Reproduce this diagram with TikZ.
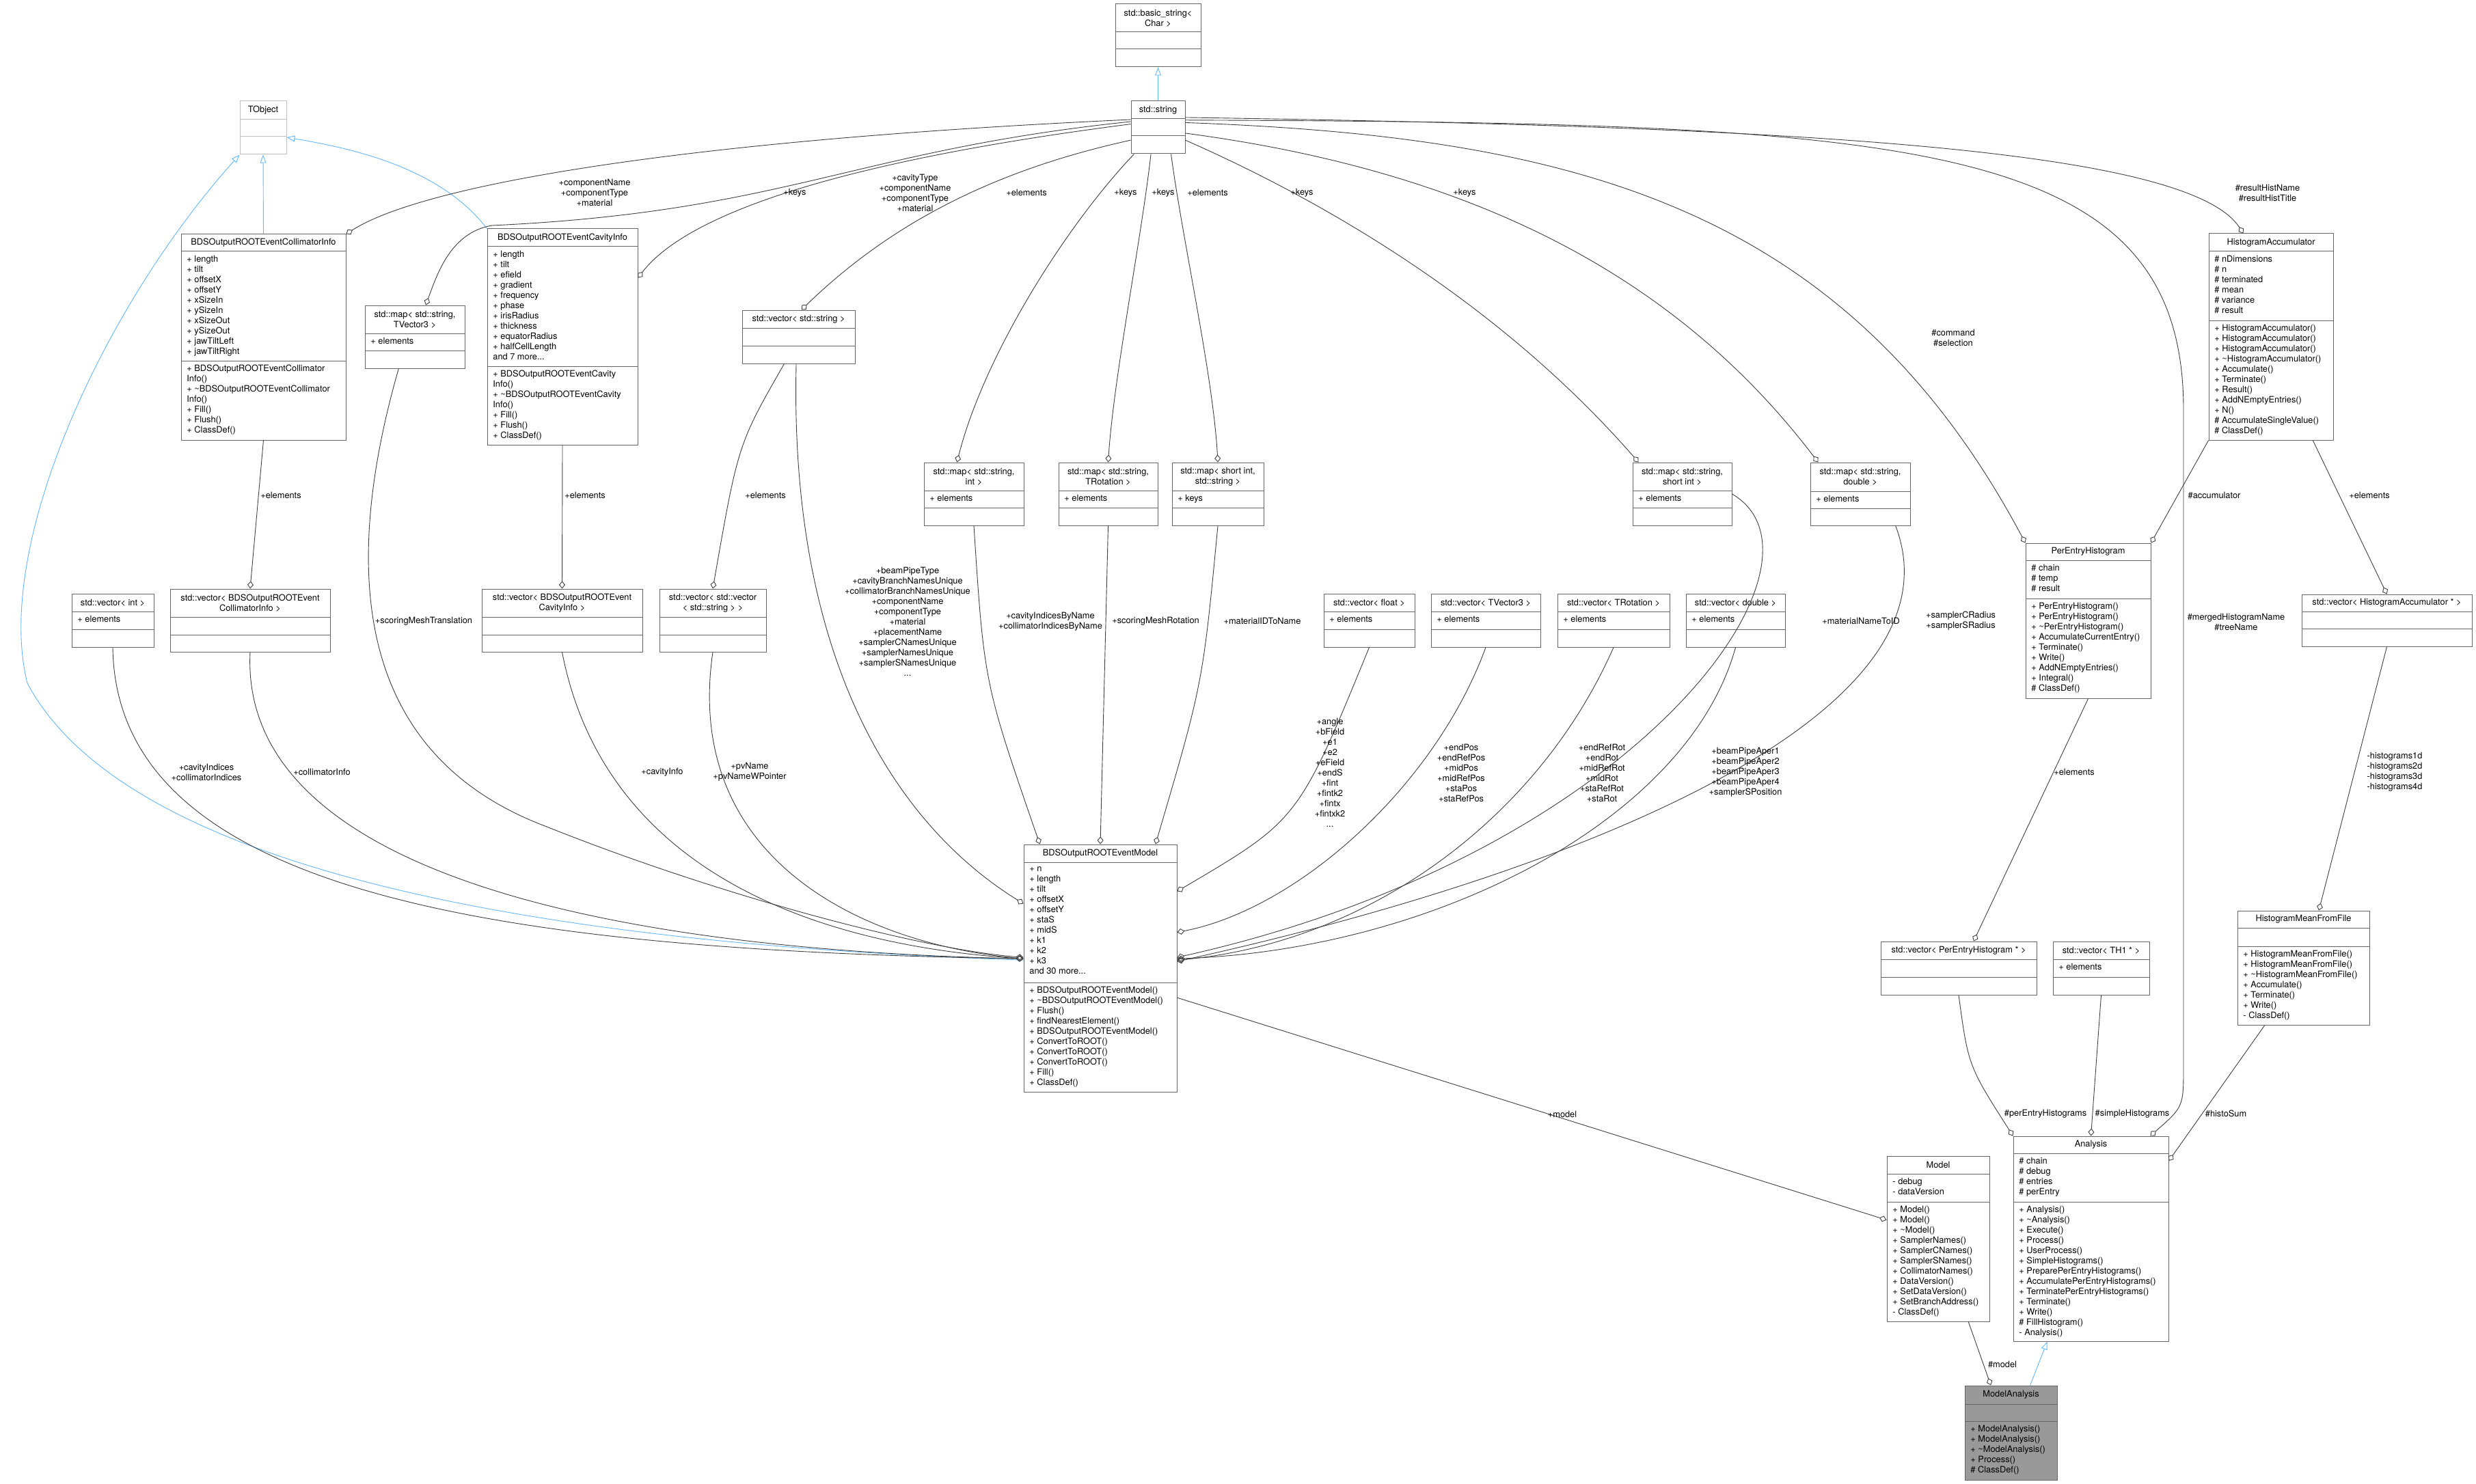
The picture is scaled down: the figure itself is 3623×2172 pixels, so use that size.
\documentclass[tikz,border=0pt]{standalone}
\usepackage{fontspec}
\setmainfont{TeX Gyre Heros}
\usetikzlibrary{arrows.meta,fit}

\definecolor{edgec}{RGB}{64,64,64}
\definecolor{boxc}{RGB}{102,102,102}
\definecolor{inhc}{RGB}{99,184,255}
\definecolor{paleboxc}{RGB}{191,191,191}
\definecolor{mainc}{RGB}{153,153,153}

\tikzset{
  classline/.style={draw=boxc, line width=0.5pt},
  classtitle/.style={font=\fontsize{6.4}{7.5}\selectfont, align=center, inner sep=0pt},
  members/.style={font=\fontsize{6.4}{7.5}\selectfont, align=left, anchor=north west, inner sep=0pt},
  lbl/.style={font=\fontsize{6.4}{7.5}\selectfont, align=center, inner sep=0pt},
  agg/.style={draw=edgec, line width=0.45pt, -{Diamond[open, length=5.5pt, width=4.5pt]}},
  inh/.style={draw=inhc, line width=0.45pt, -{Triangle[open, length=6pt, width=4.5pt]}},
}

% style, name, x1, y1, x2, y2, first split, second split, title
\newcommand{\umlclass}[9]{%
  \node[#1, inner sep=0pt, fit={(#3,#4) (#5,#6)}] (#2) {};
  \draw[#1] (#3,#7) -- (#5,#7) (#3,#8) -- (#5,#8);
  \node[classtitle] (#2-t) at ({(#3+#5)/2},{(#4+#7)/2}) {#9};
}

\begin{document}
\begin{tikzpicture}[x=0.5pt, y=-0.5pt]
  \useasboundingbox[fill=white] (0,0) rectangle (3623,2172);

  % classes
  \umlclass{draw=paleboxc, line width=0.5pt}{tobj}{351}{148}{419}{226}{175}{200}{TObject}
  \umlclass{classline}{bstr}{1632}{6}{1757}{98}{47}{72}{std::basic\_string\textless\\ Char \textgreater}
  \umlclass{classline}{str}{1655}{148}{1734}{225}{174}{199}{std::string}
  \umlclass{classline}{coll}{265}{343}{506}{644}{368}{528}{BDSOutputROOTEventCollimatorInfo}
  \umlclass{classline}{cav}{713}{335}{933}{651}{361}{536}{BDSOutputROOTEventCavityInfo}
  \umlclass{classline}{mtv3}{534}{447}{680}{539}{488}{513}{std::map\textless{} std::string,\\ TVector3 \textgreater}
  \umlclass{classline}{vstr}{1086}{454}{1251}{532}{480}{506}{std::vector\textless{} std::string \textgreater}
  \umlclass{classline}{msi}{1352}{677}{1498}{769}{718}{743}{std::map\textless{} std::string,\\ int \textgreater}
  \umlclass{classline}{mstr}{1549}{677}{1694}{769}{718}{743}{std::map\textless{} std::string,\\ TRotation \textgreater}
  \umlclass{classline}{mshs}{1715}{677}{1849}{769}{718}{743}{std::map\textless{} short int,\\ std::string \textgreater}
  \umlclass{classline}{mssh}{2389}{677}{2534}{769}{718}{743}{std::map\textless{} std::string,\\ short int \textgreater}
  \umlclass{classline}{msd}{2649}{677}{2795}{769}{719}{744}{std::map\textless{} std::string,\\ double \textgreater}
  \umlclass{classline}{hacc}{3232}{342}{3414}{644}{368}{469}{HistogramAccumulator}
  \umlclass{classline}{peh}{2964}{795}{3147}{1022}{820}{876}{PerEntryHistogram}
  \umlclass{classline}{vint}{105}{869}{225}{947}{895}{921}{std::vector\textless{} int \textgreater}
  \umlclass{classline}{vcoll}{249}{862}{483}{954}{903}{929}{std::vector\textless{} BDSOutputROOTEvent\\ CollimatorInfo \textgreater}
  \umlclass{classline}{vcav}{705}{862}{940}{954}{903}{929}{std::vector\textless{} BDSOutputROOTEvent\\ CavityInfo \textgreater}
  \umlclass{classline}{vvstr}{965}{862}{1121}{954}{903}{929}{std::vector\textless{} std::vector\\ \textless{} std::string \textgreater{} \textgreater}
  \umlclass{classline}{vflt}{1937}{869}{2070}{947}{895}{921}{std::vector\textless{} float \textgreater}
  \umlclass{classline}{vtv3}{2094}{869}{2254}{947}{895}{921}{std::vector\textless{} TVector3 \textgreater}
  \umlclass{classline}{vtrot}{2279}{869}{2443}{947}{895}{921}{std::vector\textless{} TRotation \textgreater}
  \umlclass{classline}{vdbl}{2467}{869}{2612}{947}{895}{921}{std::vector\textless{} double \textgreater}
  \umlclass{classline}{vha}{3368}{870}{3617}{946}{895}{920}{std::vector\textless{} HistogramAccumulator * \textgreater}
  \umlclass{classline}{model}{1498}{1236}{1722}{1598}{1262}{1438}{BDSOutputROOTEventModel}
  \umlclass{classline}{vpeh}{2752}{1378}{2980}{1456}{1404}{1430}{std::vector\textless{} PerEntryHistogram * \textgreater}
  \umlclass{classline}{vth1}{3004}{1378}{3145}{1456}{1404}{1430}{std::vector\textless{} TH1 * \textgreater}
  \umlclass{classline}{hmff}{3274}{1333}{3467}{1500}{1358}{1385}{HistogramMeanFromFile}
  \umlclass{classline}{mdl}{2761}{1692}{2911}{1934}{1718}{1759}{Model}
  \umlclass{classline}{anal}{2946}{1663}{3173}{1963}{1688}{1759}{Analysis}
  \umlclass{classline, fill=mainc}{manl}{2875}{2028}{3010}{2166}{2055}{2080}{ModelAnalysis}

  % members
  \node[members] (coll-a) at (273,374) {+ length\\+ tilt\\+ offsetX\\+ offsetY\\+ xSizeIn\\+ ySizeIn\\+ xSizeOut\\+ ySizeOut\\+ jawTiltLeft\\+ jawTiltRight};
  \node[members] (coll-m) at (273,534) {+ BDSOutputROOTEventCollimator\\Info()\\+ \textasciitilde BDSOutputROOTEventCollimator\\Info()\\+ Fill()\\+ Flush()\\+ ClassDef()};
  \node[members] (cav-a) at (721,367) {+ length\\+ tilt\\+ efield\\+ gradient\\+ frequency\\+ phase\\+ irisRadius\\+ thickness\\+ equatorRadius\\+ halfCellLength\\and 7 more...};
  \node[members] (cav-m) at (721,542) {+ BDSOutputROOTEventCavity\\Info()\\+ \textasciitilde BDSOutputROOTEventCavity\\Info()\\+ Fill()\\+ Flush()\\+ ClassDef()};
  \node[members] (mtv3-a) at (542,494) {+ elements};
  \node[members] (msi-a) at (1360,724) {+ elements};
  \node[members] (mstr-a) at (1557,724) {+ elements};
  \node[members] (mshs-a) at (1723,724) {+ keys};
  \node[members] (mssh-a) at (2397,724) {+ elements};
  \node[members] (msd-a) at (2657,725) {+ elements};
  \node[members] (vint-a) at (113,901) {+ elements};
  \node[members] (vflt-a) at (1945,901) {+ elements};
  \node[members] (vtv3-a) at (2102,901) {+ elements};
  \node[members] (vtrot-a) at (2287,901) {+ elements};
  \node[members] (vdbl-a) at (2475,901) {+ elements};
  \node[members] (vth1-a) at (3012,1410) {+ elements};
  \node[members] (hacc-a) at (3240,374) {\# nDimensions\\\# n\\\# terminated\\\# mean\\\# variance\\\# result};
  \node[members] (hacc-m) at (3240,475) {+ HistogramAccumulator()\\+ HistogramAccumulator()\\+ HistogramAccumulator()\\+ \textasciitilde HistogramAccumulator()\\+ Accumulate()\\+ Terminate()\\+ Result()\\+ AddNEmptyEntries()\\+ N()\\\# AccumulateSingleValue()\\\# ClassDef()};
  \node[members] (peh-a) at (2972,826) {\# chain\\\# temp\\\# result};
  \node[members] (peh-m) at (2972,882) {+ PerEntryHistogram()\\+ PerEntryHistogram()\\+ \textasciitilde PerEntryHistogram()\\+ AccumulateCurrentEntry()\\+ Terminate()\\+ Write()\\+ AddNEmptyEntries()\\+ Integral()\\\# ClassDef()};
  \node[members] (model-a) at (1506,1268) {+ n\\+ length\\+ tilt\\+ offsetX\\+ offsetY\\+ staS\\+ midS\\+ k1\\+ k2\\+ k3\\and 30 more...};
  \node[members] (model-m) at (1506,1444) {+ BDSOutputROOTEventModel()\\+ \textasciitilde BDSOutputROOTEventModel()\\+ Flush()\\+ findNearestElement()\\+ BDSOutputROOTEventModel()\\+ ConvertToROOT()\\+ ConvertToROOT()\\+ ConvertToROOT()\\+ Fill()\\+ ClassDef()};
  \node[members] (hmff-m) at (3282,1391) {+ HistogramMeanFromFile()\\+ HistogramMeanFromFile()\\+ \textasciitilde HistogramMeanFromFile()\\+ Accumulate()\\+ Terminate()\\+ Write()\\- ClassDef()};
  \node[members] (mdl-a) at (2769,1724) {- debug\\- dataVersion};
  \node[members] (mdl-m) at (2769,1765) {+ Model()\\+ Model()\\+ \textasciitilde Model()\\+ SamplerNames()\\+ SamplerCNames()\\+ SamplerSNames()\\+ CollimatorNames()\\+ DataVersion()\\+ SetDataVersion()\\+ SetBranchAddress()\\- ClassDef()};
  \node[members] (anal-a) at (2954,1694) {\# chain\\\# debug\\\# entries\\\# perEntry};
  \node[members] (anal-m) at (2954,1765) {+ Analysis()\\+ \textasciitilde Analysis()\\+ Execute()\\+ Process()\\+ UserProcess()\\+ SimpleHistograms()\\+ PreparePerEntryHistograms()\\+ AccumulatePerEntryHistograms()\\+ TerminatePerEntryHistograms()\\+ Terminate()\\+ Write()\\\# FillHistogram()\\- Analysis()};
  \node[members] (manl-m) at (2883,2086) {+ ModelAnalysis()\\+ ModelAnalysis()\\+ \textasciitilde ModelAnalysis()\\+ Process()\\\# ClassDef()};

  % inheritance
  \draw[inh] (coll.north) -- (tobj.south);
  \draw[inh] (cav.north west) .. controls (640,240) and (500,215) .. (tobj.338);
  \draw[inh] (model.174) .. controls (900,1385) and (200,1300) .. (40,1000)
    .. controls (-10,800) and (150,450) .. (tobj.south west);
  \draw[inh] (str.north) -- (bstr.south);
  \draw[inh] (manl.68) -- (anal.247);

  % std::string members
  \draw[agg] (str.164) .. controls (1000,205) and (620,270) .. (coll.north east);
  \draw[agg] (str.168) .. controls (1250,220) and (1150,310) .. (720,330)
    .. controls (660,340) and (640,400) .. (mtv3.71);
  \draw[agg] (str.173) .. controls (1200,240) and (1000,320) .. (cav.38);
  \draw[agg] (str.205) .. controls (1450,250) and (1300,330) .. (vstr.84);
  \draw[agg] (str.228) .. controls (1560,330) and (1440,520) .. (msi.118);
  \draw[agg] (str.255) .. controls (1670,350) and (1630,550) .. (mstr.north);
  \draw[agg] (str.296) .. controls (1730,350) and (1775,550) .. (mshs.north);
  \draw[agg] (str.335) .. controls (1950,300) and (2200,450) .. (mssh.144);
  \draw[agg] (str.348) .. controls (2150,250) and (2450,400) .. (msd.143);
  \draw[agg] (str.10) .. controls (2300,200) and (2700,300) .. (peh.north west);
  \draw[agg] (str.20) .. controls (2600,185) and (3200,215) .. (hacc.105);
  \draw[agg] (str.15) .. controls (2800,180) and (3195,200) .. (3195,600)
    -- (3195,1560) .. controls (3195,1620) .. (anal.60);

  % element containers
  \draw[agg] (coll.south) -- (vcoll.north);
  \draw[agg] (cav.south) -- (vcav.north);
  \draw[agg] (vstr.242) .. controls (1080,650) .. (vvstr.north);
  \draw[agg] (hacc.south west) -- (peh.north east);
  \draw[agg] (hacc.292) -- (vha.north);
  \draw[agg] (vha.south) -- (hmff.75);
  \draw[agg] (peh.south) -- (vpeh.61);

  % BDSOutputROOTEventModel members
  \draw[agg] (vstr.265) .. controls (1155,950) and (1300,1200) .. (model.140);
  \draw[agg] (mtv3.243) .. controls (480,900) and (560,1120) .. (800,1210)
    .. controls (1050,1310) and (1350,1390) .. (model.172);
  \draw[agg] (vint.south) .. controls (170,1300) and (700,1390) .. (model.173);
  \draw[agg] (vcoll.south) .. controls (350,1280) and (900,1390) .. (model.173);
  \draw[agg] (vcav.south) .. controls (880,1250) and (1150,1380) .. (model.173);
  \draw[agg] (vvstr.south) .. controls (1000,1250) and (1250,1380) .. (model.173);
  \draw[agg] (msi.south) .. controls (1440,1000) .. (model.116);
  \draw[agg] (mstr.south) -- (model.north);
  \draw[agg] (mshs.south) .. controls (1760,1000) .. (model.66);
  \draw[agg] (vflt.south) .. controls (1900,1200) .. (model.45);
  \draw[agg] (vtv3.south) .. controls (2100,1150) and (1900,1330) .. (model.25);
  \draw[agg] (vtrot.south) .. controls (2250,1200) and (2000,1380) .. (model.6);
  \draw[agg] (vdbl.south) .. controls (2470,1200) and (2100,1390) .. (model.7);
  \draw[agg] (mssh.east) .. controls (2700,820) and (2400,1250) .. (model.8);
  \draw[agg] (msd.318) .. controls (2880,1050) and (2300,1280) .. (model.5);

  % analysis classes
  \draw[agg] (model.339) -- (mdl.160);
  \draw[agg] (vpeh.south) .. controls (2880,1560) .. (anal.north west);
  \draw[agg] (vth1.south) -- (anal.north);
  \draw[agg] (hmff.236) -- (anal.45);
  \draw[agg] (mdl.290) -- (manl.113);

  % labels
  \node[lbl] (l1) at (870,282) {+componentName\\+componentType\\+material};
  \node[lbl] (l2) at (1163,282) {+keys};
  \node[lbl] (l3) at (1339,282) {+cavityType\\+componentName\\+componentType\\+material};
  \node[lbl] (l4) at (1502,282) {+elements};
  \node[lbl] (l5) at (1647,282) {+keys};
  \node[lbl] (l6) at (1702,282) {+keys};
  \node[lbl] (l7) at (1767,282) {+elements};
  \node[lbl] (l8) at (1905,282) {+keys};
  \node[lbl] (l9) at (2143,282) {+keys};
  \node[lbl] (l10) at (2858,494) {\#command\\\#selection};
  \node[lbl] (l11) at (3318,282) {\#resultHistName\\\#resultHistTitle};
  \node[lbl] (l12) at (3272,910) {\#mergedHistogramName\\\#treeName};
  \node[lbl] (l13) at (411,725) {+elements};
  \node[lbl] (l14) at (856,725) {+elements};
  \node[lbl] (l15) at (1120,725) {+elements};
  \node[lbl] (l16) at (3240,725) {\#accumulator};
  \node[lbl] (l17) at (3467,725) {+elements};
  \node[lbl] (l18) at (3504,1130) {-histograms1d\\-histograms2d\\-histograms3d\\-histograms4d};
  \node[lbl] (l19) at (3035,1130) {+elements};
  \node[lbl] (l20) at (620,909) {+scoringMeshTranslation};
  \node[lbl] (l21) at (1328,910) {+beamPipeType\\+cavityBranchNamesUnique\\+collimatorBranchNamesUnique\\+componentName\\+componentType\\+material\\+placementName\\+samplerCNamesUnique\\+samplerNamesUnique\\+samplerSNamesUnique\\...};
  \node[lbl] (l22) at (1537,910) {+cavityIndicesByName\\+collimatorIndicesByName};
  \node[lbl] (l23) at (1691,909) {+scoringMeshRotation};
  \node[lbl] (l24) at (1847,909) {+materialIDToName};
  \node[lbl] (l25) at (2723,909) {+materialNameToID};
  \node[lbl] (l26) at (2869,909) {+samplerCRadius\\+samplerSRadius};
  \node[lbl] (l27) at (302,1130) {+cavityIndices\\+collimatorIndices};
  \node[lbl] (l28) at (471,1130) {+collimatorInfo};
  \node[lbl] (l29) at (969,1130) {+cavityInfo};
  \node[lbl] (l30) at (1097,1130) {+pvName\\+pvNameWPointer};
  \node[lbl] (l31) at (1946,1131) {+angle\\+bField\\+e1\\+e2\\+eField\\+endS\\+fint\\+fintk2\\+fintx\\+fintxk2\\...};
  \node[lbl] (l32) at (2138,1131) {+endPos\\+endRefPos\\+midPos\\+midRefPos\\+staPos\\+staRefPos};
  \node[lbl] (l33) at (2344,1131) {+endRefRot\\+endRot\\+midRefRot\\+midRot\\+staRefRot\\+staRot};
  \node[lbl] (l34) at (2554,1130) {+beamPipeAper1\\+beamPipeAper2\\+beamPipeAper3\\+beamPipeAper4\\+samplerSPosition};
  \node[lbl] (l35) at (2286,1631) {+model};
  \node[lbl] (l36) at (2993,1630) {\#perEntryHistograms};
  \node[lbl] (l37) at (3120,1630) {\#simpleHistograms};
  \node[lbl] (l38) at (3257,1630) {\#histoSum};
  \node[lbl] (l39) at (2930,1997) {\#model};
\end{tikzpicture}
\end{document}
